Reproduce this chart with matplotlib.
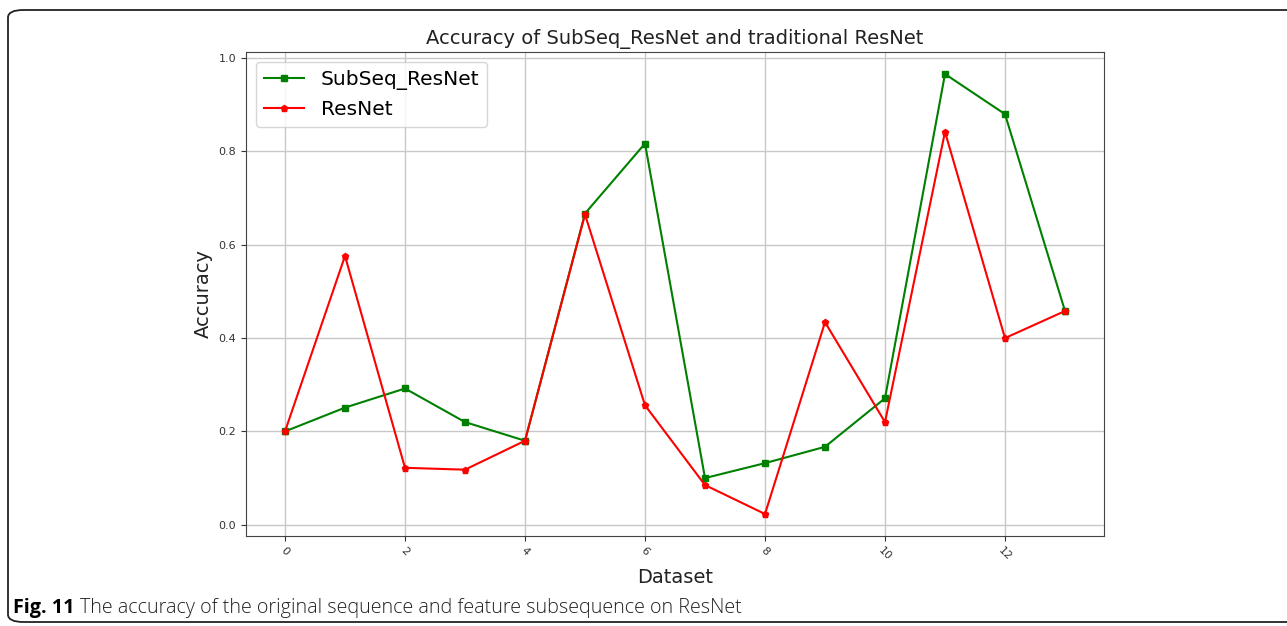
import numpy as np
import matplotlib
matplotlib.use("Agg")
from matplotlib import pyplot as plt
from matplotlib.patches import FancyBboxPatch

datasets = list(range(14))
subseq_resnet = [0.200, 0.251, 0.292, 0.220, 0.180, 0.667, 0.817, 0.100,
                 0.132, 0.167, 0.271, 0.966, 0.880, 0.458]
resnet = [0.200, 0.576, 0.122, 0.118, 0.180, 0.665, 0.256, 0.085,
          0.023, 0.434, 0.220, 0.842, 0.400, 0.458]

fig = plt.figure(figsize=(12.87, 6.26), dpi=100)

# rounded frame round the figure, as in the paper page
frame = FancyBboxPatch((8/1287, 4/626), 1.05, 612/626,
                       boxstyle="round,pad=0,rounding_size=0.012",
                       transform=fig.transFigure, fill=False,
                       edgecolor="#222222", linewidth=1.3, clip_on=False)
fig.patches.append(frame)

ax = fig.add_axes([246/1287, 1-536/626, 858/1287, 484/626])
ax.plot(datasets, subseq_resnet, color="green", marker="s", markersize=5,
        linewidth=1.5, label="SubSeq_ResNet")
ax.plot(datasets, resnet, color="red", marker="p", markersize=5,
        linewidth=1.5, label="ResNet")

ax.grid(True, color="#c8c8c8", linewidth=1)
ax.set_axisbelow(True)
ax.set_yticks([0.0, 0.2, 0.4, 0.6, 0.8, 1.0])
ax.tick_params(labelsize=8, colors="#333333")
plt.setp(ax.get_xticklabels(), rotation=-45)
for s in ax.spines.values():
    s.set_color("#444444")

ax.set_title("Accuracy of SubSeq_ResNet and traditional ResNet",
             fontsize=14, color="#222222", pad=6)
ax.set_xlabel("Dataset", fontsize=14, color="#222222", labelpad=4)
ax.set_ylabel("Accuracy", fontsize=14, color="#222222")
ax.legend(loc="upper left", fontsize=14.5, framealpha=0.8,
          borderaxespad=0.5, handlelength=2)

# caption: bold label then light text right after it
lab = fig.text(13/1287, 1-608/626, "Fig. 11", fontsize=14.2,
               va="center", ha="left", family="Open Sans", fontweight="bold")
fig.canvas.draw()
bb = lab.get_window_extent()
fig.text((bb.x1 + 6)/1287, 1-608/626,
         "The accuracy of the original sequence and feature subsequence on ResNet",
         fontsize=14.2, va="center", ha="left", family="Open Sans",
         fontweight="light", color="#222222")

fig.savefig("out.png", dpi=100)
